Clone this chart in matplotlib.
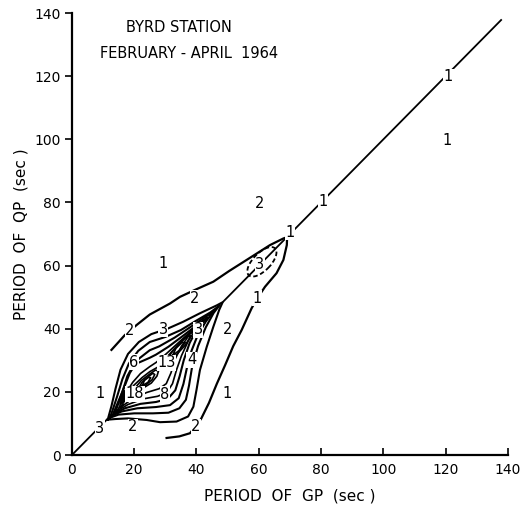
import matplotlib
matplotlib.use("Agg")
import matplotlib.pyplot as plt
from matplotlib.patches import Ellipse

plt.rcParams['font.family'] = ['DejaVu Sans']

# ---- data (periods in seconds) ----
diag_segments = [((0, 11.5), (0, 11.5)), ((48.4, 138), (48.4, 138))]

envelope_x = [12.7, 15.0, 17.0, 20.8, 25.0, 31.5, 34.7, 39.5, 45.4, 50.5, 56.1, 63.6, 67.9, 69.1,
              69.0, 67.9, 65.7, 62.0, 59.5, 57.7, 54.5, 51.8, 49.2, 46.5, 44.0, 41.5, 39.5, 37.9, 34.5, 30.4]
envelope_y = [33.3, 35.8, 38.0, 41.2, 44.5, 48.0, 50.1, 52.3, 54.9, 58.3, 61.8, 66.5, 68.6, 69.0,
              66.5, 61.8, 57.6, 53.3, 49.6, 46.5, 39.6, 34.5, 28.5, 22.5, 16.5, 11.5, 8.8, 6.9, 5.9, 5.4]

loop2 = [(11.5, 11.2), (14, 11.4), (18, 11.6), (24, 11.1), (28.3, 10.4), (33.6, 10.6), (37.3, 12.2),
         (39, 15.3), (40, 20.6), (41.1, 26.9), (43.3, 34.3), (45.4, 40.6), (47.3, 46), (48.4, 48.4),
         (46.5, 47.4), (41.1, 44.9), (35.7, 42.2), (30.9, 40.1), (25.5, 38.3), (21.5, 35.8), (18, 32),
         (15.6, 27), (14, 21), (12.7, 15.5), (11.5, 11.2)]
loop3 = [(12.2, 11.8), (15, 12.8), (20, 13.2), (26, 13.2), (31, 13.4), (34.5, 14.8), (36.6, 17.5),
         (37.6, 22), (38.6, 28), (40.5, 34.5), (43, 40.5), (45.5, 45), (47.3, 47.3),
         (44.5, 45.2), (40, 42.6), (35, 39.6), (30, 37.4), (25, 35.8), (21.3, 33), (18.3, 29),
         (16.2, 24), (14.5, 18.5), (13, 14), (12.2, 11.8)]
loop4 = [(13, 12.5), (16, 13.8), (21, 14.8), (27, 15.2), (31.5, 15.8), (34.3, 18), (35.8, 22.5),
         (36.9, 27.5), (38.4, 33), (40.4, 38), (43, 42.3), (45.6, 45.6),
         (42.5, 43.5), (38, 40.5), (33, 37.2), (28, 34.4), (25, 33.2), (21.5, 30.5), (18.6, 26),
         (16.4, 20.5), (14.5, 16), (13, 12.5)]
loop6 = [(13.8, 13.2), (17, 14.8), (22, 16.2), (27, 16.8), (30.8, 17.8), (33.2, 20.5), (34.6, 25),
         (35.9, 30), (37.8, 35.5), (40.5, 40.5), (43.6, 43.6),
         (41, 41.8), (36, 38), (31, 34.3), (27, 31.8), (25, 30.8), (22, 29.5), (19.8, 28.6),
         (17.8, 25), (16.2, 20), (14.8, 16), (13.8, 13.2)]
loop8 = [(14.6, 14), (18, 16), (23, 17.8), (27.5, 18.6), (30.5, 19.8), (32.3, 22.6), (33.6, 27),
         (35.2, 31.5), (37.3, 36), (39.6, 39.6), (41.8, 41.8),
         (39.5, 40.3), (35, 36.3), (30, 31.8), (27, 29.3), (25, 28), (22, 25.8), (19.5, 23),
         (17.6, 20), (16, 16.8), (14.6, 14)]
loop10 = [(15.5, 15), (19, 17.5), (24, 19.8), (28, 21), (30.3, 22.6), (31.8, 26), (33.2, 30.5),
          (35.2, 34.5), (37.8, 38.2), (40, 40),
          (37.8, 38.6), (34, 34.8), (30, 30.5), (27.5, 27.8), (25, 26.4), (22.5, 24.5), (19.8, 22),
          (17.8, 19), (16.5, 16.5), (15.5, 15)]
inner_a = [(19.8, 19.6), (22.5, 21), (25.5, 22.8), (27.3, 25), (27.8, 26.6), (26.8, 26.9),
           (24.8, 25.5), (22.3, 23.6), (20.5, 21.5), (19.8, 19.6)]
inner_b = [(21.2, 20.8), (23.5, 22), (25.7, 23.8), (26.6, 25.5), (26, 25.9), (24.5, 24.8),
           (22.5, 23), (21.2, 20.8)]
inner_c = [(22.6, 22), (24.4, 23), (25.3, 24.5), (24.6, 24.6), (23.3, 23.7), (22.6, 22)]
inner_d = [(30.8, 29.8), (33.6, 31.8), (36.4, 34.8), (38.2, 37.8), (36.9, 37.5), (34.2, 35),
           (31.8, 32.2), (30.8, 29.8)]
inner_e = [(32.3, 31.5), (34.4, 33.1), (36.4, 35.6), (35.4, 35.7), (33.4, 33.8), (32.3, 31.5)]
peak_blob = [(15.4, 16), (17.2, 17.2), (18.3, 19.3), (17.8, 20.8), (16.6, 20.2), (15.6, 18.3)]

outer_loops = [loop2, loop3, loop4, loop6]
inner_loops = [loop8, loop10, inner_a, inner_b, inner_c, inner_d, inner_e]

ellipse_center = (61.0, 61.2)
ellipse_size = (12.0, 5.6)

label_text = ['1', '1', '1', '1', '1', '1', '1', '1', '2', '2', '2', '2', '2', '2',
              '3', '3', '3', '3', '4', '6', '8', '13', '18']
label_x = [80.7, 120.9, 120.3, 69.9, 59.5, 49.9, 9.0, 29.2, 60.4, 18.6, 39.5, 49.9, 19.6, 39.8,
           29.3, 40.5, 9.0, 60.3, 38.4, 19.9, 29.9, 30.4, 20.3]
label_y = [80.2, 119.8, 99.6, 70.6, 49.6, 19.5, 19.5, 60.8, 79.8, 39.6, 49.6, 39.7, 8.9, 8.9,
           39.8, 39.7, 8.5, 60.4, 30.1, 29.4, 19.2, 29.2, 19.4]

title_lines = ['BYRD STATION', 'FEBRUARY - APRIL  1964']
ticks = [0, 20, 40, 60, 80, 100, 120, 140]

# ---- figure ----
fig = plt.figure(figsize=(5.21, 5.08), dpi=100)
ax = fig.add_axes([0.138, 0.1043, 0.837, 0.870])
ax.set_xlim(0, 140)
ax.set_ylim(0, 140)

for xs, ys in diag_segments:
    ax.plot(xs, ys, color='black', lw=1.3, solid_capstyle='butt')
ax.plot(envelope_x, envelope_y, color='black', lw=1.6, solid_joinstyle='round')
for lp in outer_loops:
    ax.plot([p[0] for p in lp], [p[1] for p in lp], color='black', lw=1.5, solid_joinstyle='round')
for lp in inner_loops:
    ax.plot([p[0] for p in lp], [p[1] for p in lp], color='black', lw=1.2, solid_joinstyle='round')
ax.fill([p[0] for p in peak_blob], [p[1] for p in peak_blob], color='black')
ax.add_patch(Ellipse(ellipse_center, ellipse_size[0], ellipse_size[1], angle=45,
                     fill=False, ls=(0, (2.5, 1.5)), lw=1.3, color='black', zorder=6))

for t, x, y in zip(label_text, label_x, label_y):
    ax.text(x, y, t, ha='center', va='center', fontsize=10.5, zorder=5,
            bbox=dict(facecolor='white', edgecolor='none', pad=0.3))

ax.text(34.4, 135.3, title_lines[0], ha='center', va='center', fontsize=10.5)
ax.text(9.0, 127.3, title_lines[1], ha='left', va='center', fontsize=10.5)

for s in ['top', 'right']:
    ax.spines[s].set_visible(False)
for s in ['left', 'bottom']:
    ax.spines[s].set_linewidth(1.6)
ax.set_xticks(ticks)
ax.set_yticks(ticks)
ax.tick_params(axis='x', direction='in', length=5, width=1.2, labelsize=10, pad=6)
ax.tick_params(axis='y', direction='out', length=5, width=1.2, labelsize=10, pad=3)
ax.set_xlabel('PERIOD  OF  GP  (sec )', fontsize=11, labelpad=8)
ax.set_ylabel('PERIOD  OF  QP  (sec )', fontsize=11, labelpad=4)

fig.savefig('out.png', dpi=100, facecolor='white')
